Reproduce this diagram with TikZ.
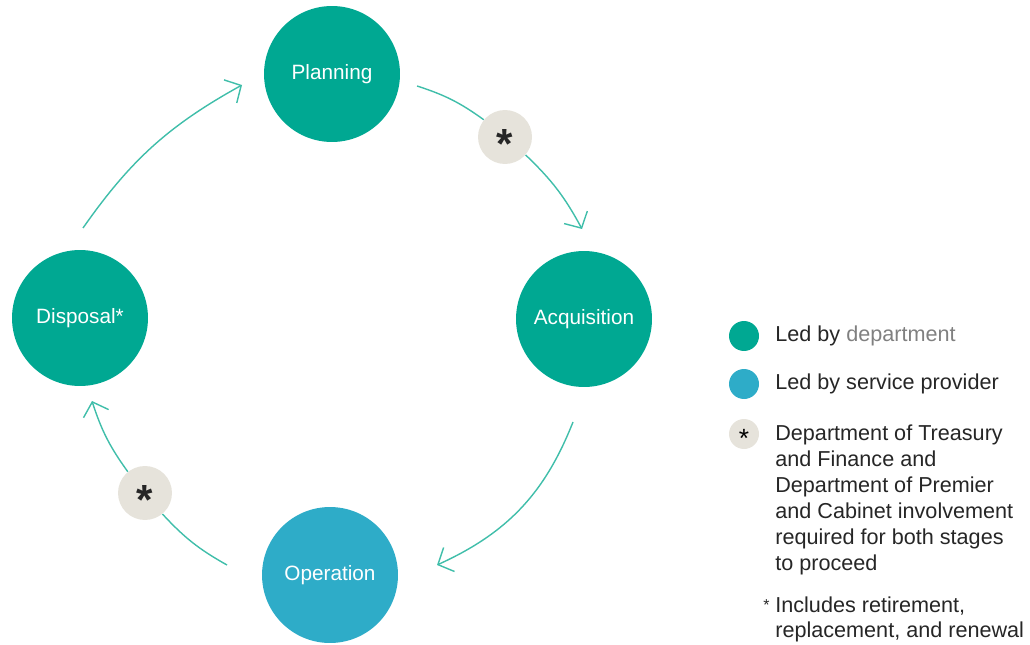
\documentclass[tikz,border=0pt]{standalone}
\usepackage{fontspec}
\setmainfont{Liberation Sans}
\usetikzlibrary{arrows.meta,positioning}

\definecolor{deptteal}{RGB}{0,168,146}
\definecolor{provblue}{RGB}{46,172,200}
\definecolor{gategrey}{RGB}{230,227,219}
\definecolor{flowteal}{RGB}{64,190,170}
\definecolor{keyink}{RGB}{38,38,38}

\begin{document}
\begin{tikzpicture}[x=0.02cm, y=0.02cm]
      \tikzset{
	  stage/.style={circle, fill=deptteal, minimum size=2.72cm, inner sep=0pt, text=white, font=\fontsize{11.8}{14}\selectfont},
	  provider/.style={stage, fill=provblue},
	  gate/.style={circle, fill=gategrey, minimum size=1.08cm, inner sep=0pt, text=black!85, font=\fontsize{24}{24}\selectfont\bfseries},
	  link/.style={draw=flowteal, line width=0.8pt},
	  flow/.style={link, -{Straight Barb[length=7pt,width=15pt,line width=0.8pt]}},
	  keydot/.style={circle, minimum size=0.6cm, inner sep=0pt},
	  keytext/.style={anchor=base west, inner sep=0pt, text=keyink, align=left, font=\fontsize{12.3}{14.7}\selectfont}
      }
      \useasboundingbox (0,0) rectangle (1030,-645);

      % life cycle stages
      \node at (332,-74) [stage] (plan) {Planning};
      \node at (584,-319) [stage] (acq) {Acquisition};
      \node at (330,-575) [provider] (oper) {Operation};
      \node at (80,-318) [stage] (disp) {Disposal*};

      \node at (505,-137) [gate] (gateA) {\smash{\raisebox{-0.5em}{*}}};
      \node at (145,-493) [gate] (gateB) {\smash{\raisebox{-0.5em}{*}}};

      \coordinate (planout) at (417,-86);
      \coordinate (acqin) at (582,-229);
      \coordinate (acqout) at (573,-422);
      \coordinate (operin) at (437,-565);
      \coordinate (operout) at (227,-565);
      \coordinate (dispin) at (92,-401);
      \coordinate (dispout) at (83,-228);
      \coordinate (planin) at (242,-85);

      \draw [link] (planout) to[bend left=9] (gateA);
      \draw [flow] (gateA) to[bend left=9] (acqin);
      \draw [flow] (acqout) to[bend left=22] (operin);
      \draw [link] (operout) to[bend left=9] (gateB);
      \draw [flow] (gateB) to[bend left=9] (dispin);
      \draw [flow] (dispout) to[bend left=13] (planin);

      % key
      \node at (744,-336) [keydot, fill=deptteal] (keydept) {};
      \node at (744,-384) [keydot, fill=provblue] (keyprov) {};
      \node at (744,-434) [keydot, fill=gategrey, font=\fontsize{15}{15}\selectfont] (keygate) {\smash{\raisebox{-0.5em}{*}}};

      \node at (775,-341) [keytext] (deptlabel) {Led by {\color{black!50}department}};
      \node at (775,-389) [keytext] (provlabel) {Led by service provider};
      \node at (775,-425) [keytext, anchor=north west] (gatelabel) {Department of Treasury\\and Finance and\\Department of Premier\\and Cabinet involvement\\required for both stages\\to proceed};

      \node at (763,-610) [keytext, font=\fontsize{9}{9}\selectfont] (footmark) {*};
      \node at (775,-596) [keytext, anchor=north west] (footnote) {Includes retirement,\\replacement, and renewal};
\end{tikzpicture}
\end{document}
